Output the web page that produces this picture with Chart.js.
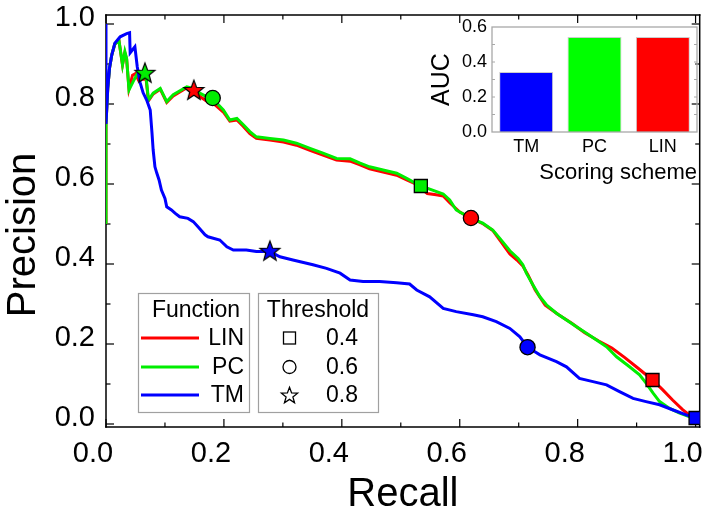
<!DOCTYPE html>
<html lang="en">
<head>
  <meta charset="UTF-8">
  <title>Precision vs Recall</title>
  <script src="https://cdn.jsdelivr.net/npm/chart.js"></script>
  <style>
    body { margin: 0; background: #fff; }
    .wrap { position: relative; width: 711px; height: 515px; }
    #main { position: absolute; left: 0; top: 0; }
    #inset { position: absolute; left: 430px; top: 0; }
  </style>
</head>
<body>
  <div class="wrap">
    <canvas id="main" width="711" height="515"></canvas>
    <canvas id="inset" width="281" height="200"></canvas>
  </div>

  <script>
    // curves: [recall, precision]
    const tmCurve = [
      [0, 1.0], [0, 0.75], [0.003, 0.84], [0.006, 0.89], [0.0097, 0.922], [0.015, 0.952],
      [0.024, 0.968], [0.035, 0.976], [0.04, 0.978], [0.041, 0.928], [0.049, 0.943],
      [0.053, 0.893], [0.058, 0.853], [0.063, 0.828], [0.069, 0.81], [0.075, 0.785],
      [0.078, 0.728], [0.08, 0.685], [0.083, 0.643], [0.086, 0.628], [0.09, 0.61],
      [0.094, 0.585], [0.1, 0.564], [0.103, 0.543], [0.111, 0.535], [0.117, 0.527],
      [0.125, 0.518], [0.139, 0.514], [0.148, 0.506], [0.156, 0.493], [0.168, 0.473],
      [0.173, 0.468], [0.193, 0.46], [0.205, 0.443], [0.216, 0.435], [0.238, 0.435],
      [0.255, 0.431], [0.278, 0.431], [0.295, 0.418], [0.317, 0.41], [0.351, 0.398],
      [0.374, 0.389], [0.397, 0.377], [0.414, 0.36], [0.436, 0.356], [0.464, 0.356],
      [0.493, 0.353], [0.515, 0.35], [0.527, 0.335], [0.549, 0.318], [0.572, 0.289],
      [0.594, 0.281], [0.623, 0.273], [0.639, 0.268], [0.662, 0.256], [0.685, 0.239],
      [0.702, 0.218], [0.715, 0.192], [0.736, 0.173], [0.764, 0.156], [0.781, 0.143],
      [0.803, 0.114], [0.826, 0.106], [0.849, 0.098], [0.871, 0.081], [0.894, 0.064],
      [0.916, 0.056], [0.939, 0.048], [0.962, 0.035], [0.984, 0.023], [1.0, 0.015]
    ];
    const pcCurve = [
      [0, 0.5], [0, 0.75], [0.003, 0.84], [0.006, 0.89], [0.0097, 0.922], [0.015, 0.95],
      [0.022, 0.958], [0.028, 0.898], [0.032, 0.931], [0.035, 0.914], [0.039, 0.835],
      [0.046, 0.856], [0.055, 0.881], [0.061, 0.864], [0.068, 0.868], [0.072, 0.81],
      [0.08, 0.827], [0.092, 0.839], [0.103, 0.806], [0.114, 0.823], [0.137, 0.843],
      [0.148, 0.839], [0.159, 0.827], [0.176, 0.814], [0.188, 0.802], [0.199, 0.785],
      [0.21, 0.76], [0.222, 0.764], [0.233, 0.748], [0.244, 0.731], [0.255, 0.718],
      [0.278, 0.714], [0.301, 0.71], [0.323, 0.702], [0.346, 0.689], [0.368, 0.677],
      [0.391, 0.664], [0.414, 0.663], [0.431, 0.652], [0.447, 0.643], [0.47, 0.635],
      [0.493, 0.627], [0.51, 0.614], [0.534, 0.595], [0.555, 0.584], [0.572, 0.575],
      [0.583, 0.56], [0.594, 0.535], [0.619, 0.514], [0.639, 0.502], [0.656, 0.485],
      [0.668, 0.464], [0.685, 0.433], [0.699, 0.414], [0.707, 0.398], [0.713, 0.377],
      [0.724, 0.348], [0.736, 0.318], [0.747, 0.298], [0.764, 0.277], [0.781, 0.26],
      [0.798, 0.243], [0.815, 0.227], [0.832, 0.21], [0.849, 0.193], [0.866, 0.168],
      [0.888, 0.143], [0.905, 0.123], [0.916, 0.102], [0.928, 0.077], [0.939, 0.056],
      [0.956, 0.039], [0.973, 0.027], [0.99, 0.018], [1.0, 0.015]
    ];
    const linCurve = [
      [0, 0.5], [0, 0.75], [0.003, 0.84], [0.006, 0.89], [0.0097, 0.922], [0.015, 0.95],
      [0.022, 0.958], [0.028, 0.898], [0.032, 0.928], [0.035, 0.912], [0.039, 0.838],
      [0.045, 0.872], [0.05, 0.876], [0.055, 0.86], [0.061, 0.862], [0.068, 0.862],
      [0.072, 0.808], [0.08, 0.825], [0.092, 0.837], [0.103, 0.804], [0.114, 0.82],
      [0.137, 0.841], [0.149, 0.835], [0.16, 0.818], [0.172, 0.806], [0.185, 0.798],
      [0.199, 0.78], [0.21, 0.757], [0.222, 0.76], [0.233, 0.744], [0.244, 0.726],
      [0.255, 0.714], [0.278, 0.71], [0.301, 0.705], [0.323, 0.697], [0.346, 0.684],
      [0.368, 0.672], [0.391, 0.66], [0.414, 0.657], [0.431, 0.648], [0.447, 0.638],
      [0.47, 0.63], [0.493, 0.622], [0.51, 0.61], [0.525, 0.6], [0.534, 0.59],
      [0.545, 0.576], [0.56, 0.573], [0.572, 0.57], [0.583, 0.553], [0.6, 0.53],
      [0.619, 0.515], [0.64, 0.5], [0.656, 0.484], [0.668, 0.46], [0.685, 0.425],
      [0.697, 0.41], [0.707, 0.395], [0.716, 0.372], [0.728, 0.335], [0.745, 0.297],
      [0.767, 0.274], [0.79, 0.252], [0.812, 0.228], [0.835, 0.208], [0.858, 0.19],
      [0.88, 0.166], [0.902, 0.14], [0.927, 0.11], [0.944, 0.086], [0.961, 0.06],
      [0.978, 0.036], [0.99, 0.022], [1.0, 0.015]
    ];

    // threshold points 0.4 / 0.6 / 0.8 on each curve
    const thresholds = ['0.4', '0.6', '0.8'];
    const linMarks = [[0.927, 0.11], [0.619, 0.515], [0.149, 0.835]];
    const pcMarks = [[0.534, 0.595], [0.181, 0.815], [0.066, 0.878]];
    const tmMarks = [[1.0, 0.015], [0.715, 0.192], [0.278, 0.433]];

    const functionNames = ['LIN', 'PC', 'TM'];
    const functionColors = ['#ff0000', '#00ee00', '#0000ff'];

    const axisTicks = [0, 0.2, 0.4, 0.6, 0.8, 1.0];
    const xMin = 0, xMax = 1.007, yMin = -0.0075, yMax = 1.0225;

    // inset
    const schemes = ['TM', 'PC', 'LIN'];
    const aucValues = [0.343, 0.543, 0.543];
    const schemeColors = ['#0000ff', '#00ff00', '#ff0000'];
    const aucTicks = [0, 0.2, 0.4, 0.6];

    const FONT = "'Liberation Sans', Arial, sans-serif";

    function starPath(ctx, cx, cy, r) {
      const ri = r * 0.42;
      ctx.beginPath();
      for (let i = 0; i < 10; i++) {
        const rad = i % 2 ? ri : r;
        const a = -Math.PI / 2 + i * Math.PI / 5;
        ctx.lineTo(cx + rad * Math.cos(a), cy + rad * Math.sin(a));
      }
      ctx.closePath();
    }

    function starImage(color) {
      const c = document.createElement('canvas');
      c.width = 24; c.height = 24;
      const g = c.getContext('2d');
      starPath(g, 12, 12.8, 10.5);
      g.fillStyle = color;
      g.fill();
      g.lineWidth = 1.2;
      g.strokeStyle = '#000';
      g.stroke();
      return c;
    }

    const toXY = arr => arr.map(p => ({ x: p[0], y: p[1] }));

    function curveSet(label, curve, color, order) {
      return {
        label, data: toXY(curve), showLine: true,
        borderColor: color, borderWidth: 3, pointRadius: 0, tension: 0, order
      };
    }

    function markerSet(label, marks, color) {
      return {
        label, data: toXY(marks), showLine: false,
        pointStyle: ['rect', 'circle', starImage(color)],
        pointRadius: [9.2, 7.6, 10],
        pointBackgroundColor: color, pointBorderColor: '#000', pointBorderWidth: 1.3,
        order: 0
      };
    }

    // box frame with inward ticks, drawn under the curves
    const framePlugin = {
      id: 'plotFrame',
      beforeDatasetsDraw(chart) {
        const ctx = chart.ctx;
        const xs = chart.scales.x, ys = chart.scales.y;
        const L = xs.getPixelForValue(xMin), R = xs.getPixelForValue(xMax);
        const T = ys.getPixelForValue(yMax), B = ys.getPixelForValue(yMin);
        ctx.save();
        ctx.fillStyle = '#000';
        ctx.fillRect(L - 0.75, T - 0.75, R - L + 1.5, 1.5);
        ctx.fillRect(L - 0.75, B - 0.75, R - L + 1.5, 1.5);
        ctx.fillRect(L - 0.75, T - 0.75, 1.5, B - T + 1.5);
        ctx.fillRect(R - 0.75, T - 0.75, 1.5, B - T + 1.5);
        for (let i = 0; i <= 10; i++) {
          const v = i / 10;
          const len = i % 2 === 0 ? 8 : 4.5;
          const px = xs.getPixelForValue(v);
          const py = ys.getPixelForValue(v);
          ctx.fillRect(px - 0.6, B - len, 1.2, len);
          ctx.fillRect(px - 0.6, T, 1.2, len);
          ctx.fillRect(L, py - 0.6, len, 1.2);
          ctx.fillRect(R - len, py - 0.6, len, 1.2);
        }
        ctx.restore();
      }
    };

    // y title and the two legend boxes
    const legendPlugin = {
      id: 'legendBoxes',
      afterDraw(chart) {
        const ctx = chart.ctx;
        const rows = [338, 367, 395];

        ctx.save();
        ctx.translate(24, 235);
        ctx.rotate(-Math.PI / 2);
        ctx.fillStyle = '#000';
        ctx.font = '40px ' + FONT;
        ctx.textAlign = 'center';
        ctx.textBaseline = 'middle';
        ctx.fillText('Precision', 0, 0);
        ctx.restore();

        ctx.save();
        ctx.fillStyle = '#fff';
        ctx.strokeStyle = '#a0a0a0';
        ctx.lineWidth = 1.2;
        ctx.fillRect(138.5, 293.5, 111, 119);
        ctx.strokeRect(138.5, 293.5, 111, 119);
        ctx.fillRect(258.5, 293.5, 120, 119);
        ctx.strokeRect(258.5, 293.5, 120, 119);

        ctx.fillStyle = '#000';
        ctx.font = '23px ' + FONT;
        ctx.textBaseline = 'middle';
        ctx.textAlign = 'center';
        ctx.fillText('Function', 196, 311);
        ctx.fillText('Threshold', 318, 311);

        functionNames.forEach((name, i) => {
          ctx.strokeStyle = functionColors[i];
          ctx.lineWidth = 3;
          ctx.beginPath();
          ctx.moveTo(141, rows[i]); ctx.lineTo(199, rows[i]);
          ctx.stroke();
          ctx.textAlign = 'right';
          ctx.fillText(name, 244, rows[i] + 1);
        });

        ctx.strokeStyle = '#000';
        ctx.lineWidth = 1.3;
        ctx.strokeRect(283.5, rows[0] - 6, 12, 12);
        ctx.beginPath();
        ctx.arc(289.5, rows[1], 6.5, 0, Math.PI * 2);
        ctx.stroke();
        starPath(ctx, 289.5, rows[2] + 0.8, 8.5);
        ctx.stroke();
        thresholds.forEach((t, i) => {
          ctx.textAlign = 'center';
          ctx.fillText(t, 342, rows[i] + 1);
        });
        ctx.restore();
      }
    };

    new Chart(document.getElementById('main'), {
      type: 'scatter',
      data: {
        datasets: [
          markerSet('LIN marks', linMarks, functionColors[0]),
          markerSet('PC marks', pcMarks, functionColors[1]),
          markerSet('TM marks', tmMarks, functionColors[2]),
          curveSet('TM', tmCurve, functionColors[2], 1),
          curveSet('PC', pcCurve, functionColors[1], 2),
          curveSet('LIN', linCurve, functionColors[0], 3)
        ]
      },
      options: {
        responsive: false,
        animation: false,
        layout: { padding: { left: 0, right: 5, top: 15, bottom: 0 } },
        plugins: { legend: { display: false }, tooltip: { enabled: false } },
        scales: {
          x: {
            type: 'linear', min: xMin, max: xMax,
            afterBuildTicks: s => { s.ticks = axisTicks.concat([xMax]).map(v => ({ value: v })); },
            afterFit: s => { s.height = 88; s.paddingLeft = 0; s.paddingRight = 0; },
            grid: { display: false, drawTicks: false },
            border: { display: false },
            ticks: {
              color: '#000', padding: 10, labelOffset: -13,
              font: { family: FONT, size: 29, lineHeight: 1.2 },
              callback: v => axisTicks.includes(v) ? v.toFixed(1) : ''
            },
            title: {
              display: true, text: 'Recall', color: '#000',
              font: { family: FONT, size: 40, lineHeight: 1.0 },
              padding: { top: 0, bottom: 0 }
            }
          },
          y: {
            type: 'linear', min: yMin, max: yMax,
            afterBuildTicks: s => { s.ticks = axisTicks.map(v => ({ value: v })); },
            afterFit: s => { s.width = 106; s.paddingTop = 0; s.paddingBottom = 0; },
            grid: { display: false, drawTicks: false },
            border: { display: false },
            ticks: {
              color: '#000', padding: 11, labelOffset: -6,
              font: { family: FONT, size: 29 },
              callback: v => v.toFixed(1)
            }
          }
        }
      },
      plugins: [framePlugin, legendPlugin]
    });

    // inset AUC chart
    const insetFrame = {
      id: 'insetFrame',
      afterDraw(chart) {
        const ctx = chart.ctx;
        const a = chart.chartArea;
        const y = chart.scales.y;
        ctx.save();
        ctx.strokeStyle = '#a8a8a8';
        ctx.lineWidth = 1.3;
        ctx.strokeRect(a.left, a.top, a.right - a.left, a.bottom - a.top);
        ctx.lineWidth = 1;
        ctx.beginPath();
        for (let i = 1; i < 6; i++) {
          const py = y.getPixelForValue(i / 10);
          ctx.moveTo(a.left, py); ctx.lineTo(a.left + 3, py);
          ctx.moveTo(a.right, py); ctx.lineTo(a.right - 3, py);
        }
        ctx.stroke();
        ctx.restore();
      }
    };

    new Chart(document.getElementById('inset'), {
      type: 'bar',
      data: {
        labels: schemes,
        datasets: [{
          data: aucValues,
          backgroundColor: schemeColors,
          borderColor: 'rgba(0,0,0,0.2)',
          borderWidth: 1,
          barPercentage: 0.79,
          categoryPercentage: 1
        }]
      },
      options: {
        responsive: false,
        animation: false,
        layout: { padding: { left: 0, right: 14, top: 27, bottom: 0 } },
        plugins: { legend: { display: false }, tooltip: { enabled: false } },
        scales: {
          x: {
            afterFit: s => { s.height = 68; s.paddingLeft = 0; s.paddingRight = 0; },
            grid: { display: false, drawTicks: false },
            border: { display: false },
            ticks: { color: '#000', padding: 4, font: { family: FONT, size: 18 } },
            title: {
              display: true, text: 'Scoring scheme', align: 'end', color: '#000',
              font: { family: FONT, size: 22, lineHeight: 1.0 },
              padding: { top: 0, bottom: 16 }
            }
          },
          y: {
            min: 0, max: 0.6,
            afterBuildTicks: s => { s.ticks = aucTicks.map(v => ({ value: v })); },
            afterFit: s => { s.width = 62; s.paddingTop = 0; s.paddingBottom = 0; },
            grid: { display: false, drawTicks: false },
            border: { display: false },
            ticks: {
              color: '#000', padding: 5,
              font: { family: FONT, size: 18 },
              callback: v => v.toFixed(1)
            },
            title: {
              display: true, text: 'AUC', color: '#000',
              font: { family: FONT, size: 25, lineHeight: 1.0 },
              padding: { top: 0, bottom: 0 }
            }
          }
        }
      },
      plugins: [insetFrame]
    });
  </script>
</body>
</html>
